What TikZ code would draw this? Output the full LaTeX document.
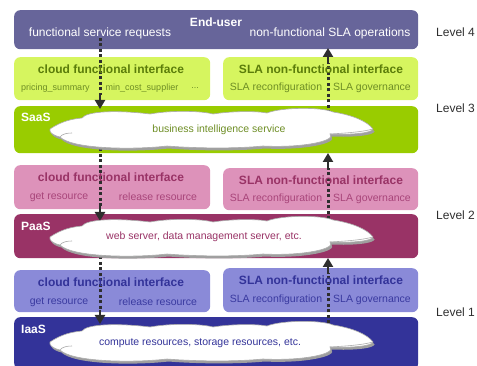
\documentclass[tikz,border=0pt]{standalone}
\usepackage{fontspec}
\setmainfont{Liberation Sans}
\usetikzlibrary{arrows.meta}
\definecolor{cEnd}{HTML}{67659A}
\definecolor{cLime}{HTML}{D6F55F}
\definecolor{cLimeT}{HTML}{5B7D0A}
\definecolor{cLimeI}{HTML}{6E8E25}
\definecolor{cSaaS}{HTML}{99CC00}
\definecolor{cPink}{HTML}{DD92BA}
\definecolor{cPaaS}{HTML}{993366}
\definecolor{cPinkI}{HTML}{A8457A}
\definecolor{cLav}{HTML}{8A8AD8}
\definecolor{cIaaS}{HTML}{333399}
\definecolor{cLavI}{HTML}{3A3AA0}
\definecolor{cArrow}{HTML}{2E2E2E}
\tikzset{
  box/.style={rectangle, rounded corners=6pt, draw=none, anchor=north west, inner sep=0pt},
  ttl/.style={font=\fontsize{12}{14}\selectfont\bfseries, inner sep=0pt},
  itm/.style={font=\fontsize{10.5}{12}\selectfont, inner sep=0pt},
  smitm/.style={font=\fontsize{9}{11}\selectfont, inner sep=0pt},
  main/.style={font=\fontsize{12}{14}\selectfont, inner sep=0pt},
  lvl/.style={font=\fontsize{12}{14}\selectfont, text=cArrow, anchor=west, inner sep=0pt},
  lyr/.style={font=\fontsize{12}{14}\selectfont\bfseries, text=white, anchor=west, inner sep=0pt},
  cldtxt/.style={font=\fontsize{10.5}{12}\selectfont, inner sep=0pt},
  dotl/.style={draw=cArrow, line width=3pt, dash pattern=on 3pt off 2.5pt},
  arr/.style={draw=cArrow, line width=2.6pt, -{Triangle[length=9pt,width=10pt]}},
  cloudy/.pic={
    \fill[gray!75, shift={(1.5,2.5)}]
      (-162,0) .. controls (-150,-8) and (-140,-10) .. (-130,-11)
      .. controls (-125,-18) and (-95,-19) .. (-62,-15)
      .. controls (-40,-19) and (-10,-18) .. (1,-15)
      .. controls (20,-18) and (45,-18) .. (55,-16)
      .. controls (70,-22) and (110,-22) .. (121,-17)
      .. controls (140,-14) and (155,-8) .. (161,0)
      .. controls (160,4) and (140,6) .. (118,5)
      .. controls (125,12) and (90,19) .. (51,17)
      .. controls (20,20) and (-20,19) .. (-45,17)
      .. controls (-80,21) and (-140,20) .. (-152,8)
      .. controls (-160,6) and (-163,3) .. (-162,0) -- cycle;
    \draw[gray!65, fill=white, line width=0.6pt]
      (-162,0) .. controls (-150,-8) and (-140,-10) .. (-130,-11)
      .. controls (-125,-18) and (-95,-19) .. (-62,-15)
      .. controls (-40,-19) and (-10,-18) .. (1,-15)
      .. controls (20,-18) and (45,-18) .. (55,-16)
      .. controls (70,-22) and (110,-22) .. (121,-17)
      .. controls (140,-14) and (155,-8) .. (161,0)
      .. controls (160,4) and (140,6) .. (118,5)
      .. controls (125,12) and (90,19) .. (51,17)
      .. controls (20,20) and (-20,19) .. (-45,17)
      .. controls (-80,21) and (-140,20) .. (-152,8)
      .. controls (-160,6) and (-163,3) .. (-162,0) -- cycle;
    \draw[gray!65, line width=0.6pt] (118,5) .. controls (135,4) and (150,3) .. (161,0);
    \draw[gray!65, line width=0.6pt] (-152,8) .. controls (-150,5) and (-145,4) .. (-140,4);
  }
}
\begin{document}
\begin{tikzpicture}[x=1pt,y=-1pt]
\useasboundingbox (0,0) rectangle (477,366);
% boxes
\node[box, fill=cEnd, minimum width=404pt, minimum height=39pt] (enduser) at (14,10) {};
\node[box, fill=cLime, minimum width=196pt, minimum height=43pt] (l4l) at (14,57) {};
\node[box, fill=cLime, minimum width=195pt, minimum height=43pt] (l4r) at (223,57) {};
\node[box, fill=cSaaS, minimum width=404pt, minimum height=47pt] (saas) at (14,106) {};
\node[box, fill=cPink, minimum width=196pt, minimum height=44pt] (l3l) at (14,165) {};
\node[box, fill=cPink, minimum width=195pt, minimum height=42pt] (l3r) at (223,168) {};
\node[box, fill=cPaaS, minimum width=404pt, minimum height=44pt] (paas) at (14,214) {};
\node[box, fill=cLav, minimum width=196pt, minimum height=42pt] (l2l) at (14,270) {};
\node[box, fill=cLav, minimum width=195pt, minimum height=44pt] (l2r) at (223,268) {};
\node[box, fill=cIaaS, minimum width=404pt, minimum height=52pt] (iaas) at (14,317) {};
% arrow coordinates
\coordinate (a1s) at (100,38);  \coordinate (a1m) at (100,95);  \coordinate (a1e) at (100,109);
\coordinate (a2s) at (100,132); \coordinate (a2m) at (100,206); \coordinate (a2e) at (100,221);
\coordinate (a3s) at (100,240); \coordinate (a3m) at (100,310); \coordinate (a3e) at (100,324);
\coordinate (b1s) at (328,340); \coordinate (b1m) at (328,273); \coordinate (b1e) at (328,258);
\coordinate (b2s) at (328,236); \coordinate (b2m) at (328,168); \coordinate (b2e) at (328,153);
\coordinate (b3s) at (328,130); \coordinate (b3m) at (328,63);  \coordinate (b3e) at (328,48);
\foreach \p in {a1,a2,a3,b1,b2,b3}{
  \draw[dotl] (\p s) -- (\p m);
  \draw[arr] (\p m) -- (\p e);
}
% clouds
\pic at (212,129) {cloudy};
\pic at (212,237) {cloudy};
\pic at (212,342) {cloudy};
\node[cldtxt, text=cLimeI] (t3) at (219,130) {business intelligence service};
\node[cldtxt, text=cPaaS] (t2) at (204,237) {web server, data management server, etc.};
\node[cldtxt, text=cIaaS] (t1) at (200,343) {compute resources, storage resources, etc.};
% end user texts
\node[ttl, text=white] (eu) at (216,22) {End-user};
\node[main, text=white] (fsr) at (100,33) {functional service requests};
\node[main, text=white] (nfo) at (330,33) {non-functional SLA operations};
% level 4 interfaces
\node[ttl, text=cLimeT] (l4lt) at (111,69) {cloud functional interface};
\node[smitm, text=cLimeI] (l4la) at (55.5,88) {pricing\_summary};
\node[smitm, text=cLimeI] (l4lb) at (142,88) {min\_cost\_supplier};
\node[smitm, text=cLimeI] (l4lc) at (195,88) {...};
\node[ttl, text=cLimeT] (l4rt) at (321,69) {SLA non-functional interface};
\node[itm, text=cLimeI] (l4ra) at (276,88) {SLA reconfiguration};
\node[itm, text=cLimeI] (l4rb) at (372,88) {SLA governance};
% level 3 interfaces
\node[ttl, text=cPaaS] (l3lt) at (111,177) {cloud functional interface};
\node[itm, text=cPinkI] (l3la) at (59,197) {get resource};
\node[itm, text=cPinkI] (l3lb) at (158,197) {release resource};
\node[ttl, text=cPaaS] (l3rt) at (321,180) {SLA non-functional interface};
\node[itm, text=cPinkI] (l3ra) at (276,199) {SLA reconfiguration};
\node[itm, text=cPinkI] (l3rb) at (372,199) {SLA governance};
% level 2 interfaces
\node[ttl, text=cIaaS] (l2lt) at (111,282) {cloud functional interface};
\node[itm, text=cLavI] (l2la) at (59,302) {get resource};
\node[itm, text=cLavI] (l2lb) at (158,302) {release resource};
\node[ttl, text=cIaaS] (l2rt) at (321,280) {SLA non-functional interface};
\node[itm, text=cLavI] (l2ra) at (276,300) {SLA reconfiguration};
\node[itm, text=cLavI] (l2rb) at (372,300) {SLA governance};
% layer labels
\node[lyr] (saasl) at (21,117) {SaaS};
\node[lyr] (paasl) at (21,226) {PaaS};
\node[lyr] (iaasl) at (21,329) {IaaS};
% levels
\node[lvl] (lv4) at (436,32) {Level 4};
\node[lvl] (lv3) at (436,108) {Level 3};
\node[lvl] (lv2) at (436,215) {Level 2};
\node[lvl] (lv1) at (436,312) {Level 1};
\end{tikzpicture}
\end{document}
